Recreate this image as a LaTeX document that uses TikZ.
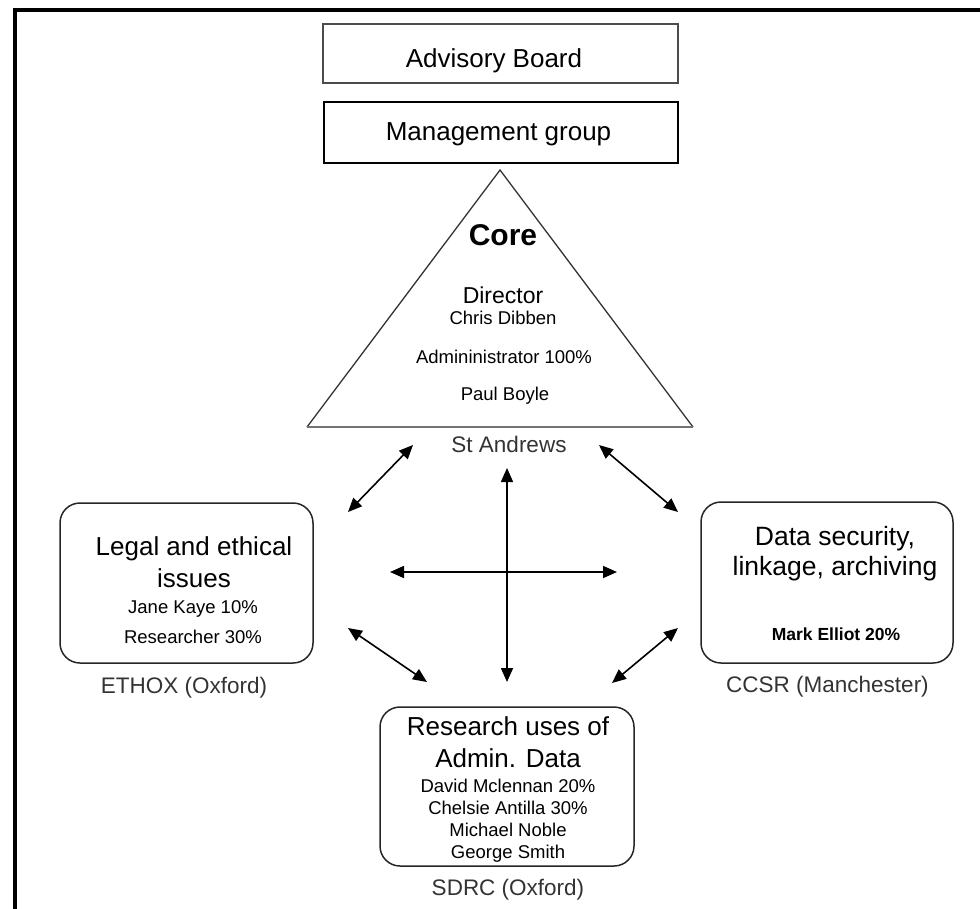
\documentclass[tikz,border=0pt]{standalone}
\usepackage{fontspec}
\setmainfont{Liberation Sans}
\usetikzlibrary{arrows.meta}

\begin{document}
\begin{tikzpicture}[x=1pt,y=-1pt,
	>={Triangle[length=14pt,width=12pt]},
	board/.style={draw=black!70,line width=1.6pt,inner sep=0pt},
	unit/.style={draw=black!85,line width=1.5pt,rounded corners=20pt,inner sep=0pt},
	heading/.style={align=center,font=\fontsize{26}{32}\selectfont,inner sep=0pt,anchor=base},
	staff/.style={align=center,font=\fontsize{18.5}{22}\selectfont,inner sep=0pt,anchor=base},
	site/.style={font=\fontsize{22.5}{27}\selectfont,text=black!80,inner sep=0pt,anchor=base},
	link/.style={<->,line width=1.6pt}]
	
	\useasboundingbox (0,0) rectangle (980,908);
	\clip (0,0) rectangle (980,908);
	
	%frame
	\draw[line width=4pt] (15,930) -- (15,10) -- (1000,10);
	
	%boards
	\node[board, minimum width=355pt, minimum height=59pt] (advisory) at (500.5,53.5) {};
	\node[heading] (advisoryText) at (494,67) {Advisory Board};
	\node[board, draw=black, minimum width=354pt, minimum height=61pt] (management) at (501,132.5) {};
	\node[heading] (managementText) at (498.5,140) {Management group};
	
	%core triangle
	\coordinate (apex) at (500,170);
	\coordinate (baseL) at (307,427);
	\coordinate (baseR) at (693,427);
	\draw[line width=1.3pt, black!80] (baseL) -- (apex) -- (baseR);
	\draw[line width=2pt, black!55] (baseL) -- (baseR);
	\node[anchor=base, inner sep=0pt, font=\fontsize{30}{36}\selectfont\bfseries] (core) at (503,245) {Core};
	\node[anchor=base, inner sep=0pt, font=\fontsize{23}{27}\selectfont] (director) at (503,303) {Director};
	\node[staff] (dibben) at (503,324) {Chris Dibben};
	\node[staff] (admin) at (504,363) {Admininistrator 100\%};
	\node[staff] (boyle) at (505,400) {Paul Boyle};
	\node[site] (standrews) at (509,452) {St Andrews};
	
	%legal (base = last line)
	\node[unit, minimum width=253pt, minimum height=160pt] (legal) at (186.5,583) {};
	\node[heading] (legalTitle) at (194,587) {Legal and ethical\\issues};
	\node[staff, font=\fontsize{18.5}{30}\selectfont] (legalStaff) at (193,643) {Jane Kaye 10\%\\Researcher 30\%};
	\node[site] (ethox) at (184,693) {ETHOX (Oxford)};
	
	%data security
	\node[unit, minimum width=252pt, minimum height=161pt] (security) at (827,582.5) {};
	\node[heading, font=\fontsize{26.5}{30}\selectfont] (securityTitle) at (835,575) {Data security,\\linkage, archiving};
	\node[staff, font=\fontsize{17.5}{21}\selectfont\bfseries] (elliot) at (836,640) {Mark Elliot 20\%};
	\node[site] (ccsr) at (827.5,692) {CCSR (Manchester)};
	
	%research uses
	\node[unit, minimum width=254pt, minimum height=159pt] (research) at (507,786.5) {};
	\node[heading] (researchTitle) at (508,767) {Research uses of\\Admin. Data};
	\node[staff] (researchStaff) at (508,858) {David Mclennan 20\%\\Chelsie Antilla 30\%\\Michael Noble\\George Smith};
	\node[site] (sdrc) at (508,895) {SDRC (Oxford)};
	
	%arrows
	\coordinate (tlA) at (413,445); \coordinate (tlB) at (348,512);
	\coordinate (trA) at (599,445); \coordinate (trB) at (678,512);
	\coordinate (vA) at (507,468); \coordinate (vB) at (507,682);
	\coordinate (hA) at (390,572); \coordinate (hB) at (617,572);
	\coordinate (blA) at (348,628); \coordinate (blB) at (427,682);
	\coordinate (brA) at (678,628); \coordinate (brB) at (612,683);
	\draw[link] (tlA) -- (tlB);
	\draw[link] (trA) -- (trB);
	\draw[link] (vA) -- (vB);
	\draw[link] (hA) -- (hB);
	\draw[link] (blA) -- (blB);
	\draw[link] (brA) -- (brB);
\end{tikzpicture}
\end{document}
